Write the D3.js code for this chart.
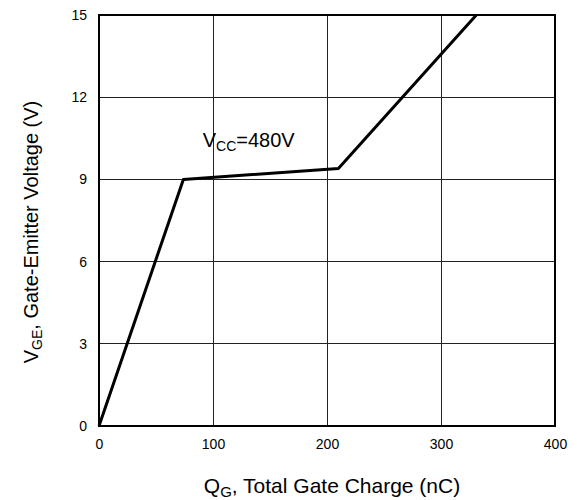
<!DOCTYPE html>
<html>
<head>
<meta charset="utf-8">
<script src="https://cdn.jsdelivr.net/npm/d3@7"></script>
<style>
  body { margin: 0; background: #fff; }
  text { font-family: "Liberation Sans", Arial, sans-serif; }
</style>
</head>
<body>
<div id="grafico"></div>
<script>
// curve points
const chargeNc = [0, 74, 210, 331]
const gateVolts = [0, 9.0, 9.4, 15]

const xTicks = [0, 100, 200, 300, 400]
const yTicks = [0, 3, 6, 9, 12, 15]

const margin = {top: 15, right: 22, bottom: 74, left: 99},
  width = 456,
  height = 411

const svg = d3.select("#grafico")
  .append("svg")
    .attr("width", 577)
    .attr("height", 500)
  .append("g")
    .attr("transform", `translate(${margin.left},${margin.top})`)

const x = d3.scaleLinear().domain([0, 400]).range([0, width])
const y = d3.scaleLinear().domain([0, 15]).range([height, 0])

// grid
svg.append("g")
  .selectAll("line")
  .data(xTicks.slice(1, -1))
  .join("line")
    .attr("x1", d => x(d)).attr("x2", d => x(d))
    .attr("y1", 0).attr("y2", height)
    .attr("stroke", "#222").attr("stroke-width", 1)
    .attr("shape-rendering", "crispEdges")

svg.append("g")
  .selectAll("line")
  .data(yTicks.slice(1, -1))
  .join("line")
    .attr("y1", d => y(d)).attr("y2", d => y(d))
    .attr("x1", 0).attr("x2", width)
    .attr("stroke", "#222").attr("stroke-width", 1)
    .attr("shape-rendering", "crispEdges")

// eixos
const xAxis = svg.append("g")
  .attr("transform", `translate(0,${height})`)
  .call(d3.axisBottom(x).tickValues(xTicks).tickSize(0).tickPadding(13))
xAxis.select(".domain").remove()
xAxis.selectAll("text").attr("font-size", "14px").attr("fill", "#000")

const yAxis = svg.append("g")
  .call(d3.axisLeft(y).tickValues(yTicks).tickSize(0).tickPadding(12))
yAxis.select(".domain").remove()
yAxis.selectAll("text").attr("font-size", "14px").attr("fill", "#000")

// frame
svg.append("rect")
  .attr("width", width).attr("height", height)
  .attr("fill", "none").attr("stroke", "#000").attr("stroke-width", 2)

// curve
const pts = chargeNc.map((q, i) => [q, gateVolts[i]])
svg.append("path")
  .datum(pts)
  .attr("fill", "none")
  .attr("stroke", "#000")
  .attr("stroke-width", 3)
  .attr("stroke-linejoin", "round")
  .attr("d", d3.line().x(d => x(d[0])).y(d => y(d[1])))

// annotation
const ann = svg.append("text")
  .attr("x", x(91)).attr("y", y(10.2))
  .attr("font-size", "20px")
ann.append("tspan").text("V")
ann.append("tspan").attr("font-size", "14px").attr("dy", 4).text("CC")
ann.append("tspan").attr("dy", -4).text("=480V")

// axis titles
const xt = svg.append("text")
  .attr("x", 233).attr("y", height + 67)
  .attr("text-anchor", "middle")
  .attr("font-size", "21px")
xt.append("tspan").text("Q")
xt.append("tspan").attr("font-size", "15px").attr("dy", 4).text("G")
xt.append("tspan").attr("dy", -4).text(", Total Gate Charge (nC)")

const yt = svg.append("text")
  .attr("transform", `translate(${-61},217) rotate(-90)`)
  .attr("text-anchor", "middle")
  .attr("font-size", "20px")
yt.append("tspan").text("V")
yt.append("tspan").attr("font-size", "14px").attr("dy", 4).text("GE")
yt.append("tspan").attr("dy", -4).text(", Gate-Emitter Voltage (V)")
</script>
</body>
</html>
